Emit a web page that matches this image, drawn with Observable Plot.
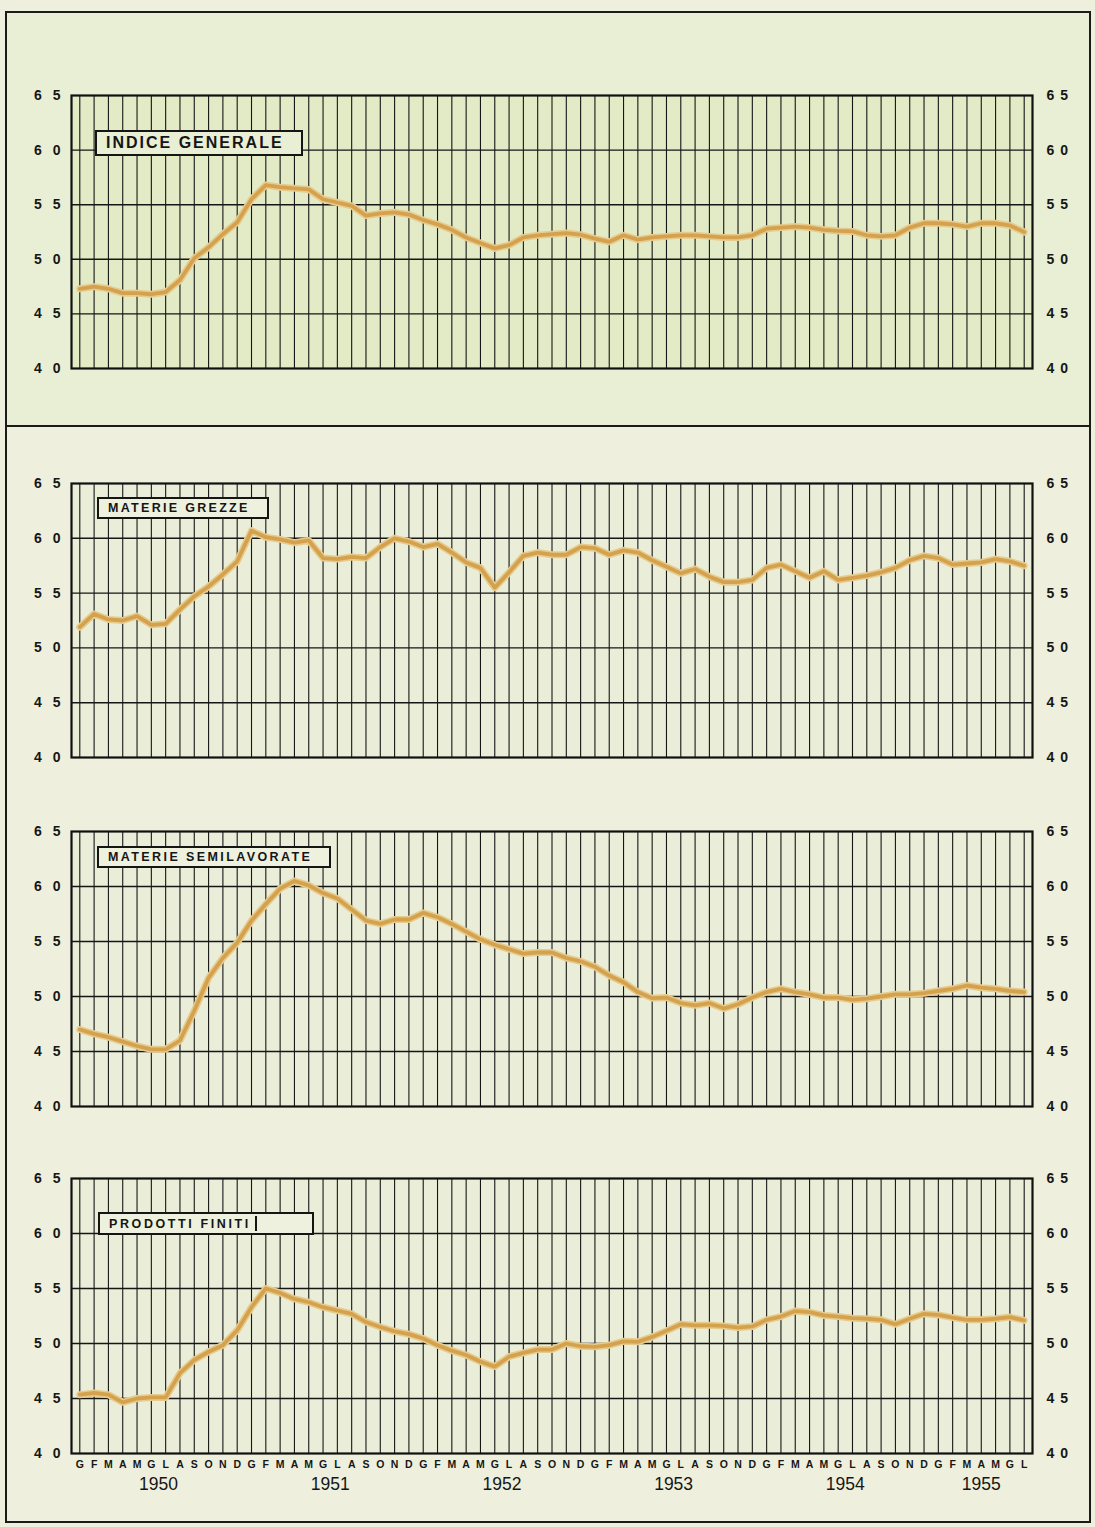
<!DOCTYPE html>
<html>
<head>
<meta charset="utf-8">
<script src="https://cdn.jsdelivr.net/npm/d3@7"></script>
<script src="https://cdn.jsdelivr.net/npm/@observablehq/plot@0.6"></script>
<style>
  body { margin: 0; background: #eef0dd; }
  #page { position: relative; width: 1095px; height: 1527px; overflow: hidden; background: #eef0dd; font-family: "Liberation Sans", Arial, sans-serif; }
  .frame { position: absolute; border: 2px solid #1b1b1b; box-sizing: border-box; }
  .panel { position: absolute; left: 0; }
  .panel svg { overflow: visible; display: block; }
  .lbl { position: absolute; border: 2px solid #151515; box-sizing: border-box; font-weight: bold; color: #151515; display: flex; align-items: center; white-space: nowrap; }
</style>
</head>
<body>
<div id="page">
  <div class="frame" style="left:5px;top:11px;width:1086px;height:416px;background:#e9efd5;"></div>
  <div class="frame" style="left:5px;top:425px;width:1086px;height:1098px;"></div>
</div>
<script>
// ---- data (monthly index values, Jan 1950 – Jul 1955) ----
const monthLetters = ["G","F","M","A","M","G","L","A","S","O","N","D"];
const years = [1950, 1951, 1952, 1953, 1954, 1955];
const lastMonth1955 = 7; // through "L" (luglio)
const yTicks = [40, 45, 50, 55, 60, 65];

const indiceGenerale = [
  47.3, 47.5, 47.3, 46.9, 46.9, 46.8, 47.0, 48.1, 50.1, 51.1, 52.3, 53.4,
  55.5, 56.8, 56.6, 56.5, 56.4, 55.5, 55.2, 54.9, 54.0, 54.2, 54.3, 54.1,
  53.6, 53.2, 52.7, 52.0, 51.5, 51.0, 51.3, 52.0, 52.2, 52.3, 52.4, 52.25,
  51.9, 51.6, 52.2, 51.8, 52.0, 52.1, 52.2, 52.2, 52.1, 52.0, 52.0, 52.2,
  52.8, 52.9, 53.0, 52.9, 52.7, 52.6, 52.55, 52.2, 52.1, 52.2, 52.9, 53.3,
  53.3, 53.2, 53.0, 53.3, 53.3, 53.1, 52.5
];
const materieGrezze = [
  51.9, 53.1, 52.6, 52.5, 52.9, 52.1, 52.2, 53.5, 54.7, 55.6, 56.7, 57.9,
  60.7, 60.1, 59.9, 59.6, 59.8, 58.2, 58.1, 58.3, 58.2, 59.2, 60.0, 59.7,
  59.2, 59.5, 58.7, 57.8, 57.3, 55.5, 56.9, 58.4, 58.7, 58.5, 58.5, 59.2,
  59.1, 58.5, 58.9, 58.7, 58.0, 57.4, 56.8, 57.2, 56.5, 56.0, 56.0, 56.2,
  57.3, 57.6, 57.0, 56.4, 57.0, 56.2, 56.4, 56.6, 56.9, 57.3, 58.0, 58.4,
  58.2, 57.6, 57.7, 57.8, 58.1, 57.9, 57.5
];
const materieSemilavorate = [
  47.0, 46.6, 46.3, 45.9, 45.5, 45.2, 45.2, 46.0, 48.7, 51.7, 53.5, 54.9,
  56.9, 58.4, 59.8, 60.5, 60.1, 59.4, 58.9, 57.9, 56.9, 56.6, 57.0, 57.0,
  57.6, 57.2, 56.6, 55.9, 55.2, 54.7, 54.3, 53.9, 54.0, 54.0, 53.5, 53.2,
  52.7, 51.9, 51.3, 50.4, 49.85, 49.9, 49.4, 49.2, 49.4, 48.9, 49.3, 49.9,
  50.4, 50.7, 50.4, 50.2, 49.9, 49.9, 49.7, 49.8, 50.0, 50.2, 50.2, 50.3,
  50.5, 50.7, 51.0, 50.8, 50.7, 50.5, 50.4
];
const prodottiFiniti = [
  45.35, 45.5, 45.35, 44.65, 45.0, 45.1, 45.1, 47.3, 48.5, 49.25, 49.85, 51.2,
  53.3, 55.0, 54.6, 54.05, 53.75, 53.3, 53.0, 52.7, 51.95, 51.5, 51.1, 50.85,
  50.45, 49.85, 49.35, 48.95, 48.35, 47.9, 48.8, 49.15, 49.45, 49.45, 50.0, 49.75,
  49.7, 49.85, 50.2, 50.15, 50.6, 51.15, 51.75, 51.65, 51.65, 51.6, 51.45, 51.55,
  52.15, 52.45, 52.95, 52.85, 52.55, 52.45, 52.3, 52.25, 52.15, 51.75, 52.25, 52.7,
  52.6, 52.35, 52.15, 52.15, 52.25, 52.4, 52.1
];

// month table built from the arrays above
const months = [];
years.forEach(y => {
  const n = y === 1955 ? lastMonth1955 : 12;
  for (let m = 0; m < n; m++) months.push({i: months.length, year: y, letter: monthLetters[m]});
});
const yearCenters = years.map(y => {
  const idx = months.filter(d => d.year === y).map(d => d.i);
  return {year: String(y), x: (d3.min(idx) + d3.max(idx)) / 2};
});

const FONT = '"Liberation Sans", Arial, sans-serif';
const INK = "#161616";

function makePanel(values, o) {
  const data = months.map(d => ({i: d.i, v: values[d.i]}));
  const marks = [
    Plot.frame({fill: o.bg, stroke: null}),
    Plot.ruleX(months, {x: "i", stroke: INK, strokeWidth: 1.1}),
    Plot.ruleY(yTicks.slice(1, -1), {stroke: INK, strokeWidth: 1.4}),
    Plot.frame({stroke: "#101010", strokeWidth: 2.2}),
    Plot.axisY(yTicks, {anchor: "left", label: null, tickSize: 0, tickPadding: 0, fontSize: 14, fontWeight: "bold", fill: INK}),
    Plot.axisY(yTicks, {anchor: "right", label: null, tickSize: 0, tickPadding: 14, fontSize: 14, fontWeight: "bold", fill: INK}),
    Plot.line(data, {x: "i", y: "v", stroke: "#e7cb8c", strokeWidth: 7, strokeLinejoin: "round", strokeLinecap: "round"}),
    Plot.line(data, {x: "i", y: "v", stroke: "#d4a24f", strokeWidth: 3.8, strokeLinejoin: "round", strokeLinecap: "round"})
  ];
  if (o.xLabels) {
    marks.push(
      Plot.axisX(months.map(d => d.i), {anchor: "bottom", label: null, tickSize: 0, tickPadding: 7, fontSize: 10.5, fontWeight: "bold", fill: INK,
        tickFormat: i => months[i].letter}),
      Plot.text(yearCenters, {x: "x", text: "year", frameAnchor: "bottom", dy: 31, fontSize: 17.5, fill: INK, lineAnchor: "middle"})
    );
  }
  const svg = Plot.plot({
    width: 1095,
    height: o.height,
    marginLeft: 71, marginRight: 63, marginTop: 15, marginBottom: o.mb,
    x: {domain: [-0.58, 66.58], axis: null},
    y: {domain: [40, 65], axis: null},
    style: {background: "transparent", fontFamily: FONT, color: INK, overflow: "visible"},
    marks
  });
  const groups = svg.querySelectorAll('g[aria-label="y-axis tick label"]');
  if (groups[0]) groups[0].querySelectorAll("text").forEach(t => t.style.letterSpacing = "11px");
  if (groups[1]) groups[1].querySelectorAll("text").forEach(t => t.style.letterSpacing = "6px");
  const wrap = document.createElement("div");
  wrap.className = "panel";
  wrap.style.top = o.top + "px";
  wrap.appendChild(svg);
  document.getElementById("page").appendChild(wrap);
}

makePanel(indiceGenerale,      {top: 80,   height: 303, mb: 15, bg: "#e2ebc5"});
makePanel(materieGrezze,       {top: 468,  height: 304, mb: 15, bg: "#eaeed8"});
makePanel(materieSemilavorate, {top: 816,  height: 305, mb: 15, bg: "#eaeed8"});
makePanel(prodottiFiniti,      {top: 1163, height: 340, mb: 50, bg: "#eaeed8", xLabels: true});

// panel label boxes
const labels = [
  {text: "INDICE GENERALE",      left: 95, top: 130,  w: 208, h: 26, size: 16,   ls: 2,   bg: "#e8efd4"},
  {text: "MATERIE GREZZE",       left: 97, top: 497,  w: 172, h: 22, size: 12.5, ls: 2.3, bg: "#eef1de"},
  {text: "MATERIE SEMILAVORATE", left: 97, top: 846,  w: 234, h: 22, size: 12.5, ls: 2.4, bg: "#eef1de"},
  {text: "PRODOTTI FINITI",      left: 98, top: 1212, w: 216, h: 23, size: 12.5, ls: 2.6, bg: "#eef1de", bar: true}
];
labels.forEach(l => {
  const d = document.createElement("div");
  d.className = "lbl";
  Object.assign(d.style, {left: l.left + "px", top: l.top + "px", width: l.w + "px", height: l.h + "px",
    fontSize: l.size + "px", letterSpacing: l.ls + "px", background: l.bg, paddingLeft: "9px"});
  d.textContent = l.text;
  if (l.bar) {
    const b = document.createElement("span");
    Object.assign(b.style, {display: "inline-block", width: "2px", height: "15px", background: INK, marginLeft: "4px"});
    d.appendChild(b);
  }
  document.getElementById("page").appendChild(d);
});
</script>
</body>
</html>
